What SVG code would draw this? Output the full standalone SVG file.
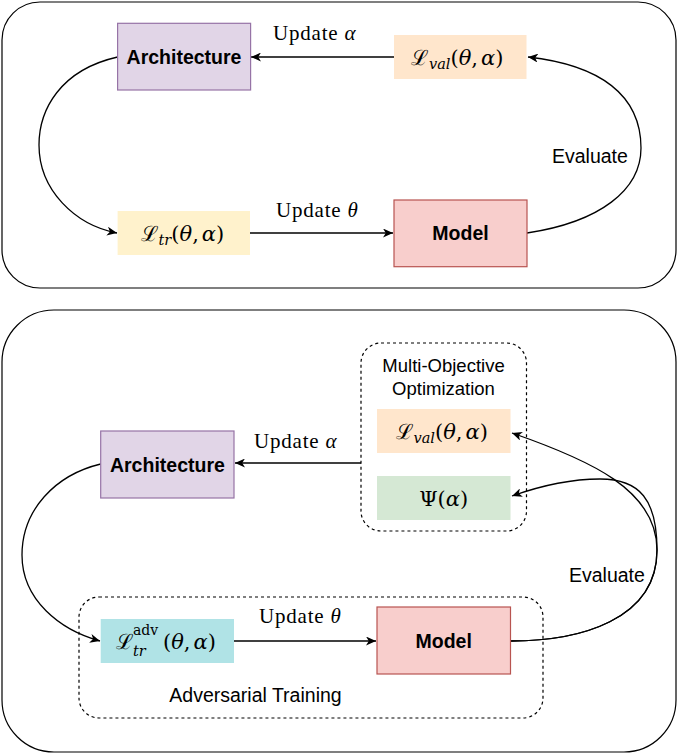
<svg xmlns="http://www.w3.org/2000/svg" width="677" height="754" viewBox="0 0 677 754">
<style>
.panel{fill:#fff;stroke:#000;stroke-width:1.2}
.grp{fill:none;stroke:#000;stroke-width:1.2;stroke-dasharray:3 3}
.edge{fill:none;stroke:#000;stroke-width:1.3}
.lbl{font-family:"Liberation Sans",Arial,sans-serif;fill:#000}
.b{font-weight:bold;font-size:19.5px}
.u{font-family:"Liberation Serif","DejaVu Serif",serif;font-size:21px;fill:#000}
.m{font-family:"DejaVu Serif","Liberation Serif",serif;font-size:21px;fill:#000}
.i{font-style:italic}
.s{font-size:14.5px}
</style>
<defs>
<marker id="arr" markerUnits="userSpaceOnUse" markerWidth="11" markerHeight="9" refX="10" refY="4.5" orient="auto">
<path d="M0,0 L10,4.5 L0,9 L2.8,4.5 z" fill="#000"/>
</marker>
</defs>
<rect class="panel" x="2" y="2" width="674" height="286" rx="38" ry="38"/>
<rect class="panel" x="2" y="310" width="674" height="442" rx="52" ry="52"/>
<g id="moo-group">
<rect class="grp" x="361" y="343" width="165.5" height="188" rx="20" ry="20"/>
<text class="lbl" x="443.5" y="372" font-size="18.5" text-anchor="middle">Multi-Objective</text>
<text class="lbl" x="443.5" y="395" font-size="18.5" text-anchor="middle">Optimization</text>
</g>
<g id="adv-group">
<rect class="grp" x="79" y="597" width="464" height="121" rx="20" ry="20"/>
<text class="lbl" x="255.5" y="702" font-size="19.5" text-anchor="middle">Adversarial Training</text>
</g>
<g id="connectors">
<path class="edge" d="M394,57 L251,57" marker-end="url(#arr)"/>
<path class="edge" d="M250,233 L393,233" marker-end="url(#arr)"/>
<path class="edge" d="M527,233 C600,222 641,190 641,148 C641,95 600,65 528,57" marker-end="url(#arr)"/>
<path class="edge" d="M117.6,57 C60,70 39,110 39,145 C39,190 75,225 117,233" marker-end="url(#arr)"/>
<path class="edge" d="M361,463 L235,463" marker-end="url(#arr)"/>
<path class="edge" d="M234,641 L376,641" marker-end="url(#arr)"/>
<path class="edge" d="M510.5,641 C580,641 657,620 657,550 C657,490 590,460 512,433" marker-end="url(#arr)"/>
<path class="edge" d="M510.5,641 C580,641 657,620 657,550 C657,500 640,479 600,479 C570,479 540,486 512,496" marker-end="url(#arr)"/>
<path class="edge" d="M100.7,464 C55,475 22,510 22,555 C22,600 60,630 100,641" marker-end="url(#arr)"/>
</g>
<g id="labels">
<text class="u" x="273" y="40" letter-spacing="0.8">Update  <tspan class="i">α</tspan></text>
<text class="u" x="276" y="217" letter-spacing="0.8">Update  <tspan class="i">θ</tspan></text>
<text class="lbl" x="552" y="163" font-size="19.5">Evaluate</text>
<text class="u" x="254" y="448" letter-spacing="0.8">Update  <tspan class="i">α</tspan></text>
<text class="u" x="259" y="623" letter-spacing="0.8">Update  <tspan class="i">θ</tspan></text>
<text class="lbl" x="569" y="582" font-size="19.5">Evaluate</text>
</g>
<g id="architecture-top">
<rect x="117.6" y="23.3" width="133" height="66.7" fill="#e1d5e7" stroke="#9673a6" stroke-width="1.2"/>
<text class="lbl b" x="184" y="63.5" text-anchor="middle">Architecture</text>
</g>
<g id="lval-top">
<rect x="394" y="35" width="132.5" height="44" fill="#ffe6cc"/>
<text class="m" x="411" y="64.5">ℒ<tspan class="i s" dy="4">val</tspan><tspan dy="-4">(</tspan><tspan class="i">θ</tspan>,<tspan class="i" dx="3">α</tspan>)</text>
</g>
<g id="ltr-top">
<rect x="117.6" y="211" width="132.4" height="44" fill="#fff2cc"/>
<text class="m" x="140.5" y="240.5">ℒ<tspan class="i s" dy="4">tr</tspan><tspan dy="-4">(</tspan><tspan class="i">θ</tspan>,<tspan class="i" dx="3">α</tspan>)</text>
</g>
<g id="model-top">
<rect x="394" y="200" width="133" height="66.7" fill="#f8cecc" stroke="#b85450" stroke-width="1.2"/>
<text class="lbl b" x="460.5" y="240" text-anchor="middle">Model</text>
</g>
<g id="architecture-bottom">
<rect x="100.7" y="431" width="133.3" height="67" fill="#e1d5e7" stroke="#9673a6" stroke-width="1.2"/>
<text class="lbl b" x="167.4" y="471.5" text-anchor="middle">Architecture</text>
</g>
<g id="lval-bottom">
<rect x="377" y="409" width="133.5" height="44" fill="#ffe6cc"/>
<text class="m" x="395.5" y="438.5">ℒ<tspan class="i s" dy="4">val</tspan><tspan dy="-4">(</tspan><tspan class="i">θ</tspan>,<tspan class="i" dx="3">α</tspan>)</text>
</g>
<g id="psi">
<rect x="377" y="476" width="133.5" height="44" fill="#d5e8d4"/>
<text class="m" x="443.7" y="505.5" text-anchor="middle">Ψ(<tspan class="i">α</tspan>)</text>
</g>
<g id="ladv">
<rect x="100.7" y="619" width="133.3" height="44" fill="#b0e3e6"/>
<text class="m" x="116" y="648.5">ℒ<tspan x="133" y="635" font-size="14">adv</tspan><tspan class="i" x="133" y="656" font-size="14.5">tr</tspan><tspan x="163" y="648.5">(</tspan><tspan class="i">θ</tspan>,<tspan class="i" dx="3">α</tspan>)</text>
</g>
<g id="model-bottom">
<rect x="377" y="607" width="133.5" height="67" fill="#f8cecc" stroke="#b85450" stroke-width="1.2"/>
<text class="lbl b" x="443.7" y="647.5" text-anchor="middle">Model</text>
</g>
</svg>
